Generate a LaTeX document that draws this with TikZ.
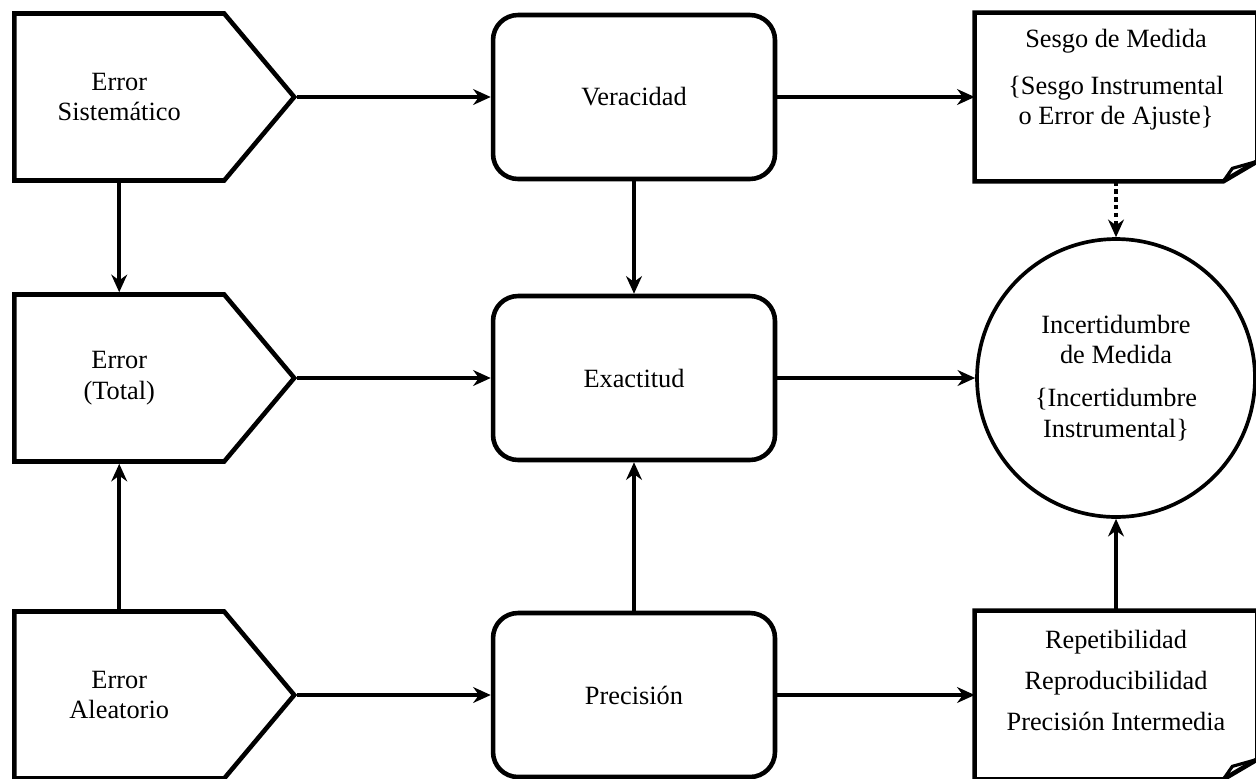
\documentclass[tikz,border=0pt]{standalone}
\usepackage{fontspec}
\setmainfont{Liberation Serif}
\usetikzlibrary{shapes.symbols,arrows.meta}

\begin{document}
\begin{tikzpicture}[x=0.02cm,y=-0.02cm,->,>={Stealth[length=10pt,width=9pt]},line width=2.1pt,
    font=\fontsize{15}{17.5}\selectfont,
    error node/.style={signal,signal to=east,signal pointer angle=100,draw,line width=2.6pt,minimum width=5.6cm,minimum height=3.34cm,align=center,anchor=west},
    step node/.style={rectangle,rounded corners=0.5cm,draw,line width=2.6pt,minimum width=5.64cm,minimum height=3.28cm,align=center},
    doc node/.style={rectangle,minimum width=5.58cm,minimum height=3.3cm,align=center},
    doc line/.style={-,line width=2.6pt,line join=miter}]
                \useasboundingbox (0,0) rectangle (1256,778);

                \node[error node] (sist) at (12,97) {Error\\Sistemático};
                \node[error node] (total) at (12,378) {Error\\(Total)};
                \node[error node] (aleat) at (12,695) {Error\\Aleatorio};

                \node[step node] (verac) at (634,97) {Veracidad};
                \node[step node] (exact) at (634,378) {Exactitud};
                \node[step node] (prec) at (634,695) {Precisión};

                \node[doc node] (sesgo) at (1116,97) {Sesgo de Medida\\[9pt]\{Sesgo Instrumental\\o Error de Ajuste\}\\\strut};
                \node[doc node] (repet) at (1116,695) {Repetibilidad\\[6pt]Reproducibilidad\\[6pt]Precisión Intermedia\\[-6pt]\strut};
                \node[circle,draw,line width=2.1pt,minimum size=5.56cm,align=center] (incert) at (1116,378)
                    {Incertidumbre\\de Medida\\[7pt]\{Incertidumbre\\Instrumental\}};

                % folded corner of the document boxes
                \foreach \d in {sesgo,repet}{
                    \draw[doc line] (\d.north west) -- (\d.north east) -- ([yshift=0.4cm]\d.south east)
                        -- ([xshift=-0.68cm]\d.south east) -- (\d.south west) -- cycle;
                    \draw[doc line,line width=1.8pt] ([xshift=-0.68cm]\d.south east) -- ([xshift=-0.5cm,yshift=0.26cm]\d.south east)
                        -- ([yshift=0.4cm]\d.south east);
                }

                \path
                    (sist) edge (verac)
                    (total) edge (exact)
                    (aleat) edge (prec)
                    (verac) edge (sesgo)
                    (exact) edge (incert)
                    (prec) edge (repet)
                    (verac) edge (exact)
                    (prec) edge (exact)
                    (repet) edge (incert)
                    (sist.south) edge (total.north)
                    (aleat.north) edge (total.south)
                    ;
                \draw[dash pattern=on 2.5pt off 2pt] (sesgo) -- (incert);
\end{tikzpicture}
\end{document}
